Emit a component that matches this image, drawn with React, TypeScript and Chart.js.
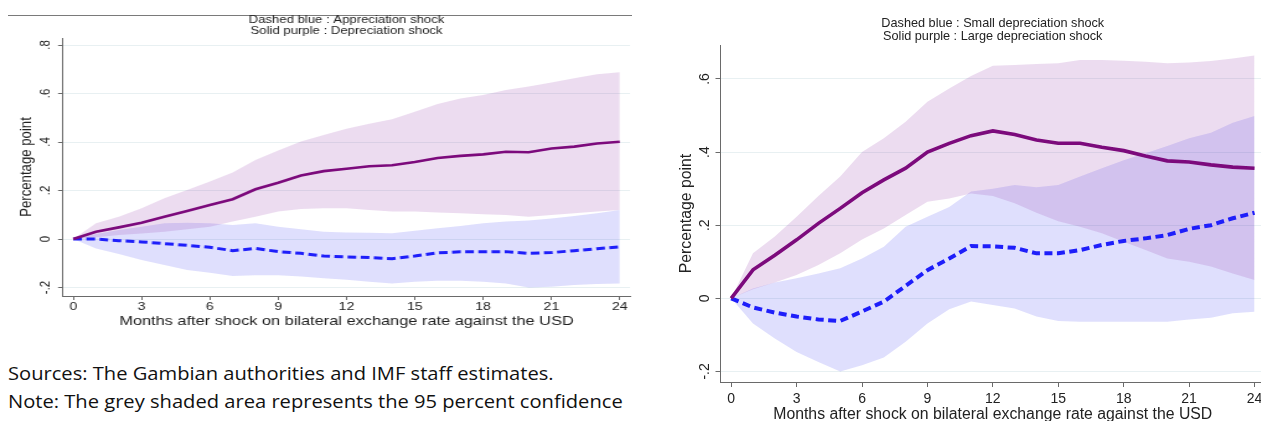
import React, { useEffect, useRef } from "react";
import { Chart, registerables } from "chart.js";

Chart.register(...registerables);

// ---------- data ----------
const months = [0, 1, 2, 3, 4, 5, 6, 7, 8, 9, 10, 11, 12, 13, 14, 15, 16, 17, 18, 19, 20, 21, 22, 23, 24];
const xTickValues = [0, 3, 6, 9, 12, 15, 18, 21, 24];
const xTickLabels = ["0", "3", "6", "9", "12", "15", "18", "21", "24"];

const leftYTickValues = [-0.2, 0, 0.2, 0.4, 0.6, 0.8];
const leftYTickLabels = ["-.2", "0", ".2", ".4", ".6", ".8"];
const rightYTickValues = [-0.2, 0, 0.2, 0.4, 0.6];
const rightYTickLabels = ["-.2", "0", ".2", ".4", ".6"];

const leftTitle = ["Dashed blue : Appreciation shock", "Solid purple : Depreciation shock"];
const rightTitle = ["Dashed blue : Small depreciation shock", "Solid purple : Large depreciation shock"];
const yAxisTitle = "Percentage point";
const xAxisTitle = "Months after shock on bilateral exchange rate against the USD";

const noteLines = [
  "Sources: The Gambian authorities and IMF staff estimates.",
  "Note: The grey shaded area represents the 95 percent confidence",
];

// Left panel: depreciation (solid purple) and appreciation (dashed blue)
const leftDepPoint = [0, 0.03, 0.048, 0.067, 0.092, 0.116, 0.14, 0.164, 0.205, 0.232, 0.262, 0.28, 0.29, 0.3, 0.304, 0.318, 0.334, 0.343, 0.349, 0.36, 0.358, 0.373, 0.381, 0.394, 0.401];
const leftDepUpper = [0, 0.065, 0.092, 0.127, 0.168, 0.202, 0.237, 0.274, 0.326, 0.365, 0.402, 0.429, 0.455, 0.475, 0.494, 0.525, 0.557, 0.58, 0.594, 0.615, 0.629, 0.645, 0.663, 0.68, 0.688];
const leftDepLower = [0, 0.007, 0.017, 0.023, 0.03, 0.04, 0.051, 0.072, 0.092, 0.113, 0.124, 0.127, 0.127, 0.12, 0.113, 0.113, 0.109, 0.106, 0.102, 0.099, 0.092, 0.099, 0.106, 0.113, 0.12];
const leftAppPoint = [0, 0, -0.007, -0.012, -0.019, -0.026, -0.034, -0.048, -0.039, -0.052, -0.059, -0.07, -0.074, -0.076, -0.081, -0.07, -0.057, -0.053, -0.053, -0.052, -0.059, -0.056, -0.048, -0.04, -0.032];
const leftAppUpper = [0, 0.021, 0.037, 0.051, 0.065, 0.067, 0.065, 0.058, 0.065, 0.051, 0.04, 0.03, 0.027, 0.026, 0.024, 0.034, 0.044, 0.054, 0.065, 0.072, 0.076, 0.085, 0.095, 0.106, 0.12];
const leftAppLower = [0, -0.039, -0.062, -0.087, -0.107, -0.128, -0.139, -0.153, -0.149, -0.149, -0.155, -0.162, -0.168, -0.176, -0.183, -0.176, -0.172, -0.172, -0.176, -0.183, -0.2, -0.197, -0.19, -0.186, -0.183];

// Right panel: large depreciation (solid purple) and small depreciation (dashed blue)
const rightLargePoint = [0, 0.078, 0.118, 0.16, 0.205, 0.246, 0.289, 0.324, 0.356, 0.4, 0.424, 0.445, 0.458, 0.448, 0.433, 0.424, 0.424, 0.413, 0.404, 0.389, 0.376, 0.373, 0.365, 0.359, 0.356];
const rightLargeUpper = [0, 0.123, 0.169, 0.223, 0.28, 0.333, 0.4, 0.438, 0.483, 0.538, 0.574, 0.608, 0.636, 0.638, 0.641, 0.643, 0.652, 0.652, 0.65, 0.647, 0.643, 0.645, 0.649, 0.656, 0.664];
const rightLargeLower = [0, 0.025, 0.043, 0.064, 0.091, 0.123, 0.161, 0.191, 0.228, 0.264, 0.273, 0.287, 0.28, 0.26, 0.234, 0.211, 0.196, 0.178, 0.155, 0.132, 0.109, 0.1, 0.087, 0.068, 0.05];
const rightSmallPoint = [0, -0.025, -0.039, -0.05, -0.058, -0.062, -0.036, -0.009, 0.034, 0.077, 0.109, 0.143, 0.142, 0.138, 0.123, 0.123, 0.132, 0.146, 0.157, 0.164, 0.173, 0.19, 0.2, 0.219, 0.234];
const rightSmallUpper = [0, 0.027, 0.043, 0.055, 0.068, 0.082, 0.109, 0.141, 0.196, 0.223, 0.25, 0.292, 0.3, 0.31, 0.304, 0.31, 0.333, 0.356, 0.378, 0.397, 0.417, 0.438, 0.453, 0.48, 0.499];
const rightSmallLower = [0, -0.069, -0.11, -0.147, -0.174, -0.2, -0.183, -0.162, -0.119, -0.069, -0.03, -0.009, -0.018, -0.028, -0.05, -0.062, -0.064, -0.064, -0.064, -0.064, -0.064, -0.058, -0.053, -0.041, -0.037];

// ---------- styles ----------
const FONT = "'Liberation Sans', Arial, Helvetica, sans-serif";
const PURPLE = "#7c0a7c";
const BLUE = "#1e1efa";
const PURPLE_BAND = "rgba(150,60,170,0.18)";
const BLUE_BAND = "rgba(30,30,240,0.14)";
const GRID = "rgb(232,240,242)";
const AXIS = "#6a6a6a";
const TEXT = "#222";

type Panel = {
  width: number;
  height: number;
  areaLeft: number;
  areaRight: number;
  areaTop: number;
  areaBottom: number;
  xMin: number;
  xMax: number;
  yMin: number;
  yMax: number;
  yTicks: number[];
  yLabels: string[];
  title: string[];
  titleSize: number;
  titleLine: number;
  titlePadTop: number;
  tickSize: number;
  tickLen: number;
  yTickPad: number;
  xTickPad: number;
  axisTitleSize: number;
  yTitlePad: number;
  xTitlePad: number;
  lineWidth: number;
  dashWidth: number;
  dash: number[];
  purple: number[];
  purpleUp: number[];
  purpleLo: number[];
  blue: number[];
  blueUp: number[];
  blueLo: number[];
};

const pts = (arr: number[]) => months.map((m, i) => ({ x: m, y: arr[i] }));

function makeConfig(p: Panel): any {
  const titleLH = p.titleLine;
  const titlePadBottom = p.areaTop - p.titlePadTop - 2 * titleLH;
  return {
    type: "line",
    data: {
      datasets: [
        { data: pts(p.purple), borderColor: PURPLE, borderWidth: p.lineWidth, pointRadius: 0, tension: 0, fill: false, order: 0 },
        { data: pts(p.blue), borderColor: BLUE, borderWidth: p.dashWidth, borderDash: p.dash, pointRadius: 0, tension: 0, fill: false, order: 1 },
        { data: pts(p.purpleUp), borderColor: "transparent", borderWidth: 0, pointRadius: 0, tension: 0, backgroundColor: PURPLE_BAND, fill: "+1", order: 2 },
        { data: pts(p.purpleLo), borderColor: "transparent", borderWidth: 0, pointRadius: 0, tension: 0, fill: false, order: 2 },
        { data: pts(p.blueUp), borderColor: "transparent", borderWidth: 0, pointRadius: 0, tension: 0, backgroundColor: BLUE_BAND, fill: "+1", order: 3 },
        { data: pts(p.blueLo), borderColor: "transparent", borderWidth: 0, pointRadius: 0, tension: 0, fill: false, order: 3 },
      ],
    },
    options: {
      responsive: false,
      animation: false,
      devicePixelRatio: 1,
      events: [],
      layout: { padding: { left: 0, top: 0, right: p.width - p.areaRight, bottom: 0 } },
      plugins: {
        legend: { display: false },
        tooltip: { enabled: false },
        title: {
          display: true,
          fullSize: false,
          text: p.title,
          color: TEXT,
          font: { family: FONT, size: p.titleSize, weight: "normal", lineHeight: titleLH / p.titleSize },
          padding: { top: p.titlePadTop, bottom: titlePadBottom },
        },
      },
      scales: {
        x: {
          type: "linear",
          min: p.xMin,
          max: p.xMax,
          afterFit: (s: any) => { s.height = p.height - p.areaBottom; },
          afterBuildTicks: (s: any) => { s.ticks = xTickValues.map((v) => ({ value: v })); },
          grid: { drawOnChartArea: false, drawTicks: true, tickLength: p.tickLen, tickColor: AXIS, tickWidth: 1 },
          border: { display: true, color: AXIS, width: 1 },
          ticks: {
            autoSkip: false,
            maxRotation: 0,
            minRotation: 0,
            padding: p.xTickPad,
            color: TEXT,
            font: { family: FONT, size: p.tickSize, lineHeight: 1 },
            callback: (v: number) => xTickLabels[xTickValues.indexOf(v)],
          },
          title: {
            display: true,
            text: xAxisTitle,
            color: TEXT,
            font: { family: FONT, size: p.axisTitleSize, lineHeight: 1 },
            padding: { top: 0, bottom: p.xTitlePad },
          },
        },
        y: {
          type: "linear",
          min: p.yMin,
          max: p.yMax,
          afterFit: (s: any) => { s.width = p.areaLeft; },
          afterBuildTicks: (s: any) => { s.ticks = p.yTicks.map((v) => ({ value: v })); },
          grid: { drawOnChartArea: true, color: GRID, lineWidth: 1, drawTicks: true, tickLength: p.tickLen, tickColor: AXIS, tickWidth: 1 },
          border: { display: true, color: AXIS, width: 1 },
          ticks: {
            autoSkip: false,
            minRotation: 90,
            maxRotation: 90,
            crossAlign: "center",
            padding: p.yTickPad,
            color: TEXT,
            font: { family: FONT, size: p.tickSize, lineHeight: 1 },
            callback: (v: number) => p.yLabels[p.yTicks.indexOf(v)],
          },
          title: {
            display: true,
            text: yAxisTitle,
            color: TEXT,
            font: { family: FONT, size: p.axisTitleSize, lineHeight: 1 },
            padding: { top: p.yTitlePad, bottom: 0 },
          },
        },
      },
    },
  };
}

const SX = 1.24; // horizontal stretch of the left panel

const leftPanel: Panel = {
  width: 516,
  height: 335,
  areaLeft: 63 / SX,
  areaRight: 630 / SX,
  areaTop: 38,
  areaBottom: 296,
  xMin: -0.45,
  xMax: 24.45,
  yMin: -0.235,
  yMax: 0.829,
  yTicks: leftYTickValues,
  yLabels: leftYTickLabels,
  title: leftTitle,
  titleSize: 10.6,
  titleLine: 10.8,
  titlePadTop: 14.6,
  tickSize: 11.4,
  tickLen: 4,
  yTickPad: 3.8,
  xTickPad: 1.5,
  axisTitleSize: 13.2,
  yTitlePad: 15,
  xTitlePad: 7,
  lineWidth: 2.6,
  dashWidth: 3,
  dash: [7, 3.6],
  purple: leftDepPoint,
  purpleUp: leftDepUpper,
  purpleLo: leftDepLower,
  blue: leftAppPoint,
  blueUp: leftAppUpper,
  blueLo: leftAppLower,
};

const rightPanel: Panel = {
  width: 615,
  height: 421,
  areaLeft: 60.5,
  areaRight: 605,
  areaTop: 45,
  areaBottom: 382,
  xMin: -0.49,
  xMax: 24.48,
  yMin: -0.229,
  yMax: 0.693,
  yTicks: rightYTickValues,
  yLabels: rightYTickLabels,
  title: rightTitle,
  titleSize: 12.7,
  titleLine: 13.2,
  titlePadTop: 16.6,
  tickSize: 14,
  tickLen: 5,
  yTickPad: 2.5,
  xTickPad: 5,
  axisTitleSize: 15.8,
  yTitlePad: 19,
  xTitlePad: -1.5,
  lineWidth: 3.6,
  dashWidth: 4,
  dash: [8, 4.5],
  purple: rightLargePoint,
  purpleUp: rightLargeUpper,
  purpleLo: rightLargeLower,
  blue: rightSmallPoint,
  blueUp: rightSmallUpper,
  blueLo: rightSmallLower,
};

function PanelChart({ panel }: { panel: Panel }) {
  const ref = useRef<HTMLCanvasElement | null>(null);
  useEffect(() => {
    if (!ref.current) return;
    const chart = new Chart(ref.current, makeConfig(panel));
    return () => chart.destroy();
  }, [panel]);
  return <canvas ref={ref} width={panel.width} height={panel.height} style={{ display: "block" }} />;
}

export default function App() {
  return (
    <div
      style={{
        position: "fixed",
        left: 0,
        top: 0,
        width: 1261,
        height: 421,
        overflow: "hidden",
        background: "#fff",
      }}
    >
      <div style={{ position: "absolute", left: 8, top: 15, width: 624, height: 1, background: "#7a7a7a" }} />
      <div
        style={{
          position: "absolute",
          left: 0,
          top: 0,
          width: leftPanel.width,
          height: leftPanel.height,
          transform: `scaleX(${SX})`,
          transformOrigin: "0 0",
        }}
      >
        <PanelChart panel={leftPanel} />
      </div>
      <div style={{ position: "absolute", left: 660, top: 0, width: rightPanel.width, height: rightPanel.height }}>
        <PanelChart panel={rightPanel} />
      </div>
      {noteLines.map((t, i) => (
        <div
          key={i}
          style={{
            position: "absolute",
            left: 8,
            top: 360 + i * 28,
            fontFamily: "'Open Sans', 'Noto Sans', sans-serif",
            fontSize: 18.5,
            lineHeight: "26px",
            color: "#111",
            whiteSpace: "nowrap",
            transform: "scaleX(1.088)",
            transformOrigin: "0 0",
          }}
        >
          {t}
        </div>
      ))}
    </div>
  );
}
